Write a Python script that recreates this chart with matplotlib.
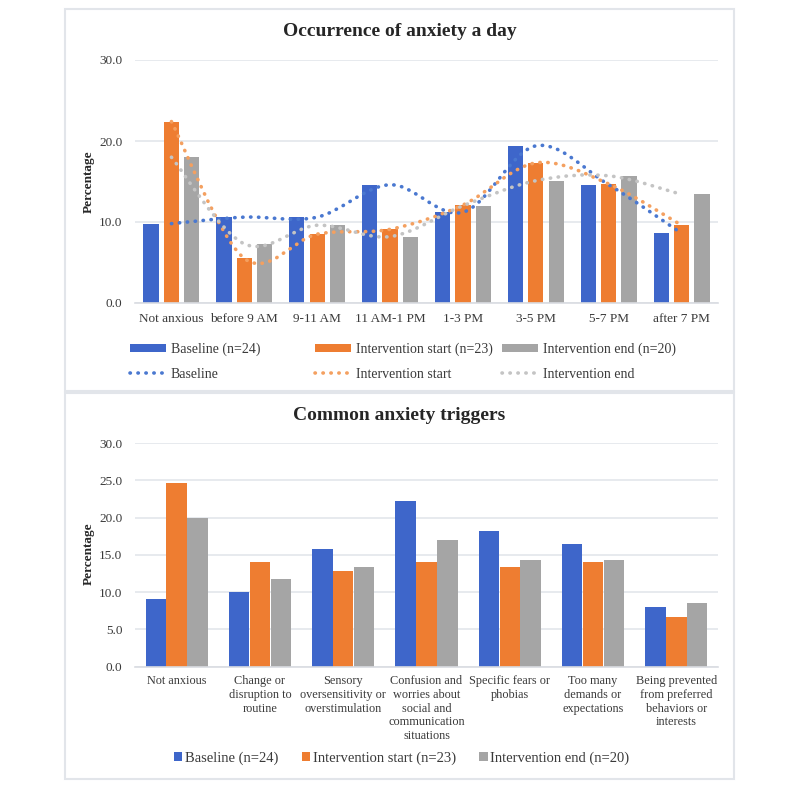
import numpy as np
import matplotlib
matplotlib.use("Agg")
import matplotlib.pyplot as plt
from matplotlib.path import Path
from matplotlib.patches import PathPatch, Rectangle, Patch
from matplotlib.lines import Line2D

plt.rcParams['font.family'] = ['Liberation Serif', 'DejaVu Serif']

# ==== data ====
time_labels = ['Not anxious', 'before 9 AM', '9-11 AM', '11 AM-1 PM',
               '1-3 PM', '3-5 PM', '5-7 PM', 'after 7 PM']
time_baseline = [9.8, 10.6, 10.6, 14.6, 11.2, 19.4, 14.6, 8.6]
time_start = [22.4, 5.5, 8.5, 9.1, 12.1, 17.3, 14.7, 9.6]
time_end = [18.0, 7.3, 9.6, 8.2, 12.0, 15.1, 15.7, 13.4]

trigger_labels = ['Not anxious',
                  'Change or\ndisruption to\nroutine',
                  'Sensory\noversensitivity or\noverstimulation',
                  'Confusion and\nworries about\nsocial and\ncommunication\nsituations',
                  'Specific fears or\nphobias',
                  'Too many\ndemands or\nexpectations',
                  'Being prevented\nfrom preferred\nbehaviors or\ninterests']
trig_baseline = [9.1, 10.0, 15.8, 22.2, 18.2, 16.4, 8.0]
trig_start = [24.6, 14.0, 12.8, 14.0, 13.4, 14.0, 6.7]
trig_end = [20.0, 11.7, 13.4, 17.0, 14.3, 14.3, 8.6]

bar_names = ['Baseline (n=24)', 'Intervention start (n=23)', 'Intervention end (n=20)']
line_names = ['Baseline', 'Intervention start', 'Intervention end']

BLUE, ORANGE, GRAY = '#3E66CA', '#EE7D31', '#A5A5A5'
LBLUE, LORANGE, LGRAY = '#4A78D0', '#F4A060', '#C4C4C4'
GRID = '#E3E6EB'
TXT = '#3A3A3A'

W, H = 800, 787
fig = plt.figure(figsize=(W / 100, H / 100), dpi=100)


def fx(px):
    return px / W


def fy(py):
    return 1 - py / H


# panel frames
for y0, y1 in [(9, 391), (393, 779)]:
    fig.patches.append(Rectangle((fx(65), fy(y1)), fx(734) - fx(65), fy(y0) - fy(y1),
                                 transform=fig.transFigure, fill=False,
                                 edgecolor='#E2E5EA', lw=1.5))


def style_axes(ax, ymax, step):
    ax.set_ylim(0, ymax)
    ax.set_yticks(np.arange(0, ymax + 0.1, step))
    ax.yaxis.set_major_formatter(matplotlib.ticker.FormatStrFormatter('%.1f'))
    ax.grid(axis='y', color=GRID, lw=1.2)
    ax.set_axisbelow(True)
    for s in ['top', 'right', 'left']:
        ax.spines[s].set_visible(False)
    ax.spines['bottom'].set_color('#D9DCE1')
    ax.spines['bottom'].set_linewidth(1.2)
    ax.tick_params(axis='both', length=0, labelsize=9.5, labelcolor=TXT)
    ax.tick_params(axis='y', pad=9)


def smooth_path(xs, ys):
    pts = np.column_stack([xs, ys]).astype(float)
    n = len(pts)
    verts = [pts[0]]
    codes = [Path.MOVETO]
    for i in range(n - 1):
        p0 = pts[i - 1] if i > 0 else pts[i]
        p1, p2 = pts[i], pts[i + 1]
        p3 = pts[i + 2] if i + 2 < n else pts[i + 1]
        verts += [p1 + (p2 - p0) / 6, p2 - (p3 - p1) / 6, p2]
        codes += [Path.CURVE4] * 3
    return Path(verts, codes)


DOT = (0, (0.1, 2.1))
LW = 2.6

# ==== top chart ====
ax1 = fig.add_axes([fx(135), fy(303), fx(718) - fx(135), fy(60) - fy(303)])
x = np.arange(len(time_labels))
bw, step = 0.21, 0.28
for k, (vals, c) in enumerate(zip([time_baseline, time_start, time_end], [BLUE, ORANGE, GRAY])):
    ax1.bar(x + (k - 1) * step, vals, width=bw, color=c, zorder=2)
for vals, c in zip([time_baseline, time_start, time_end], [LBLUE, LORANGE, LGRAY]):
    ax1.add_patch(PathPatch(smooth_path(x, vals), fill=False, edgecolor=c, lw=LW,
                            linestyle=DOT, capstyle='round', zorder=3))
ax1.set_xlim(-0.5, len(time_labels) - 0.5)
style_axes(ax1, 30, 10)
ax1.set_xticks(x)
ax1.set_xticklabels(time_labels, fontsize=9.5)
ax1.tick_params(axis='x', pad=7)

fig.text(fx(399.5), fy(32), 'Occurrence of anxiety a day', ha='center', va='center',
         fontsize=14, fontweight='bold', color='#262626')
fig.text(fx(89), fy(182), 'Percentage', rotation=90, ha='center', va='center',
         fontsize=9.5, fontweight='bold', color='#262626')

# legend: three 2-row columns placed at Excel-like fixed positions
for k, (xp, c, lc) in enumerate(zip([127, 312, 499], [BLUE, ORANGE, GRAY], [LBLUE, LORANGE, LGRAY])):
    hs = [Patch(facecolor=c), Line2D([], [], color=lc, lw=LW, linestyle=DOT,
                                     dash_capstyle='round')]
    fig.legend(hs, [bar_names[k], line_names[k]], loc='upper left',
               bbox_to_anchor=(fx(xp) - 0.008, fy(333)), frameon=False,
               fontsize=10, handlelength=2.6, handleheight=0.55,
               handletextpad=0.3, labelspacing=0.85, borderpad=0.2,
               labelcolor=TXT)

# ==== bottom chart ====
ax2 = fig.add_axes([fx(135), fy(666.7), fx(718) - fx(135), fy(443) - fy(666.7)])
x2 = np.arange(len(trigger_labels))
bw2, step2 = 0.245, 0.25
for k, (vals, c) in enumerate(zip([trig_baseline, trig_start, trig_end], [BLUE, ORANGE, GRAY])):
    ax2.bar(x2 + (k - 1) * step2, vals, width=bw2, color=c, zorder=2,
            label=bar_names[k])
ax2.set_xlim(-0.5, len(trigger_labels) - 0.5)
style_axes(ax2, 30, 5)
ax2.set_xticks(x2)
ax2.set_xticklabels(trigger_labels, fontsize=8.8, linespacing=1.2, va='top')
ax2.tick_params(axis='x', pad=6)

fig.text(fx(399.5), fy(415), 'Common anxiety triggers', ha='center', va='center',
         fontsize=14, fontweight='bold', color='#262626')
fig.text(fx(89), fy(554), 'Percentage', rotation=90, ha='center', va='center',
         fontsize=9.5, fontweight='bold', color='#262626')

fig.legend(*ax2.get_legend_handles_labels(), loc='center', ncol=3,
           bbox_to_anchor=(fx(402), fy(758)), frameon=False, fontsize=10.5,
           handlelength=0.55, handleheight=0.55, handletextpad=0.2,
           columnspacing=1.6, labelcolor=TXT)

fig.savefig('out.png', dpi=100, facecolor='white')
